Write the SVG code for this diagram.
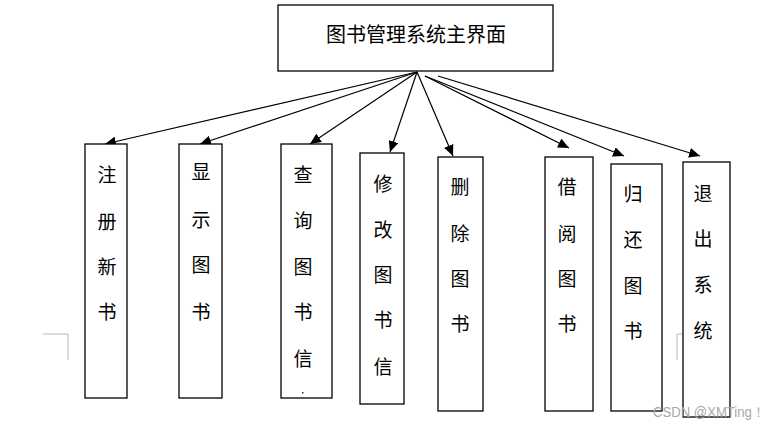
<svg xmlns="http://www.w3.org/2000/svg" width="780" height="430" viewBox="0 0 780 430">
<style>
.box{fill:#fff;stroke:#000;stroke-width:1.3}
.t{font-family:"Noto Sans CJK SC","Noto Sans",sans-serif;font-size:19px;fill:#000;text-anchor:middle;dominant-baseline:central}
.title{font-size:20px}
.c{stroke:#000;stroke-width:1.2;fill:none;marker-end:url(#ah)}
.mark{stroke:#b8b8b8;stroke-width:1;fill:none}
.wm{font-family:"Liberation Sans",sans-serif;font-size:14px;fill:#a8a8a8}
</style>
<defs>
<marker id="ah" markerWidth="12" markerHeight="10" refX="11" refY="5" orient="auto" markerUnits="userSpaceOnUse">
<path d="M0,0 L11,5 L0,10 Z" fill="#000"/>
</marker>
</defs>
<rect width="780" height="430" fill="#fff"/>
<path class="mark" d="M43,334 H68 V360"/>
<path class="mark" d="M693,334 H677 V360"/>
<g id="main">
<rect class="box" x="278" y="5" width="275" height="66"/>
<text class="t title" x="416" y="33">图书管理系统主界面</text>
</g>
<g id="connectors">
<line class="c" x1="417" y1="72" x2="105" y2="144"/>
<line class="c" x1="417" y1="72" x2="200" y2="144"/>
<line class="c" x1="417" y1="72" x2="310" y2="144"/>
<line class="c" x1="417" y1="72" x2="390" y2="152"/>
<line class="c" x1="417" y1="72" x2="453" y2="156"/>
<line class="c" x1="425" y1="76" x2="569" y2="148"/>
<line class="c" x1="425" y1="76" x2="624" y2="156"/>
<line class="c" x1="438" y1="76" x2="700" y2="156"/>
</g>
<g id="n1">
<rect class="box" x="85" y="144" width="42" height="254"/>
<text class="t" x="107" y="173">注</text><text class="t" x="107" y="220">册</text><text class="t" x="107" y="265">新</text><text class="t" x="107" y="310">书</text>
</g>
<g id="n2">
<rect class="box" x="179" y="144" width="43" height="254"/>
<text class="t" x="201" y="170">显</text><text class="t" x="201" y="218">示</text><text class="t" x="201" y="263">图</text><text class="t" x="201" y="310">书</text>
</g>
<g id="n3">
<rect class="box" x="281" y="144" width="51" height="254"/>
<text class="t" x="303" y="173">查</text><text class="t" x="303" y="219">询</text><text class="t" x="303" y="265">图</text><text class="t" x="303" y="310">书</text><text class="t" x="303" y="357">信</text>
<rect x="302" y="392" width="1.5" height="1.5" fill="#333"/>
</g>
<g id="n4">
<rect class="box" x="360" y="153" width="44" height="251"/>
<text class="t" x="383" y="182">修</text><text class="t" x="383" y="228">改</text><text class="t" x="383" y="273">图</text><text class="t" x="383" y="318">书</text><text class="t" x="383" y="365">信</text>
</g>
<g id="n5">
<rect class="box" x="438" y="157" width="45" height="254"/>
<text class="t" x="460" y="185">删</text><text class="t" x="460" y="232">除</text><text class="t" x="460" y="277">图</text><text class="t" x="460" y="322">书</text>
</g>
<g id="n6">
<rect class="box" x="545" y="157" width="48" height="254"/>
<text class="t" x="567" y="185">借</text><text class="t" x="567" y="232">阅</text><text class="t" x="567" y="277">图</text><text class="t" x="567" y="322">书</text>
</g>
<g id="n7">
<rect class="box" x="611" y="164" width="51" height="247"/>
<text class="t" x="633" y="192">归</text><text class="t" x="633" y="238">还</text><text class="t" x="633" y="284">图</text><text class="t" x="633" y="329">书</text>
</g>
<g id="n8">
<rect class="box" x="683" y="162" width="47" height="255"/>
<text class="t" x="703" y="192">退</text><text class="t" x="703" y="237">出</text><text class="t" x="703" y="283">系</text><text class="t" x="703" y="329">统</text>
</g>
<text class="wm" x="653" y="417" textLength="112" lengthAdjust="spacingAndGlyphs">CSDN @XMTing！</text>
</svg>
